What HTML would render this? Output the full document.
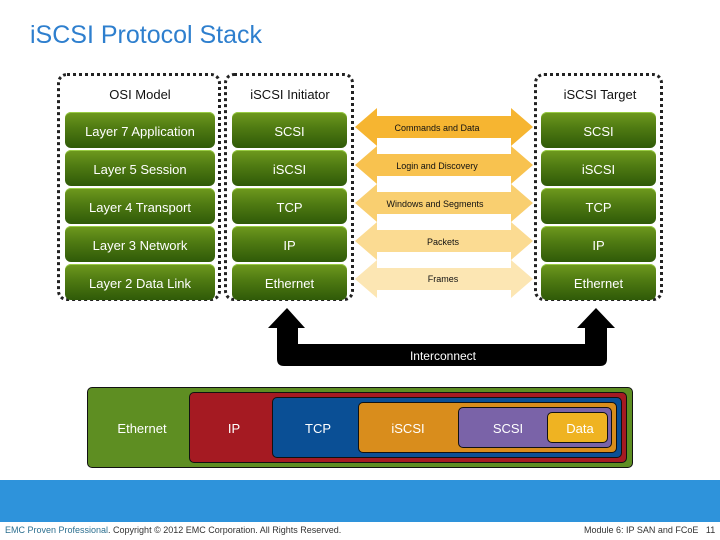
<!DOCTYPE html>
<html><head><meta charset="utf-8"><style>
*{margin:0;padding:0;box-sizing:border-box}
body{width:720px;height:540px;position:relative;background:#fff;font-family:"Liberation Sans",sans-serif;overflow:hidden}
.a{position:absolute}
.box{position:absolute;border:3px dotted #222;border-radius:10px}
.hd{position:absolute;font-size:13px;color:#111;text-align:center}
.g{position:absolute;height:36px;border-radius:6px;background:linear-gradient(#6f9a1e,#4f7a12 45%,#2f5a08);color:#fff;font-size:13px;line-height:40px;text-align:center;box-shadow:inset 0 1px 0 #9c4}
.n{position:absolute;border:1.5px solid #111;border-radius:5px}
.l{position:absolute;top:421px;color:#fff;font-size:13px;width:80px;text-align:center}
</style></head><body>
<div class="a" style="left:30px;top:21px;font-size:25px;color:#2e7fce">iSCSI Protocol Stack</div>

<div class="box" style="left:57px;top:73px;width:164px;height:228px"></div>
<div class="box" style="left:224px;top:73px;width:130px;height:228px"></div>
<div class="box" style="left:534px;top:73px;width:129px;height:228px"></div>
<div class="hd" style="left:60px;top:87px;width:160px">OSI Model</div>
<div class="hd" style="left:226px;top:87px;width:128px">iSCSI Initiator</div>
<div class="hd" style="left:536px;top:87px;width:128px">iSCSI Target</div>

<div class="g" style="left:65px;top:112px;width:150px">Layer 7 Application</div>
<div class="g" style="left:65px;top:150px;width:150px">Layer 5 Session</div>
<div class="g" style="left:65px;top:188px;width:150px">Layer 4 Transport</div>
<div class="g" style="left:65px;top:226px;width:150px">Layer 3 Network</div>
<div class="g" style="left:65px;top:264px;width:150px">Layer 2 Data Link</div>

<div class="g" style="left:232px;top:112px;width:115px">SCSI</div>
<div class="g" style="left:232px;top:150px;width:115px">iSCSI</div>
<div class="g" style="left:232px;top:188px;width:115px">TCP</div>
<div class="g" style="left:232px;top:226px;width:115px">IP</div>
<div class="g" style="left:232px;top:264px;width:115px">Ethernet</div>

<div class="g" style="left:541px;top:112px;width:115px">SCSI</div>
<div class="g" style="left:541px;top:150px;width:115px">iSCSI</div>
<div class="g" style="left:541px;top:188px;width:115px">TCP</div>
<div class="g" style="left:541px;top:226px;width:115px">IP</div>
<div class="g" style="left:541px;top:264px;width:115px">Ethernet</div>

<svg class="a" style="left:355px;top:108px" width="178" height="195">
<g>
<polygon points="0,19 22,0 22,8 156,8 156,0 178,19 156,38 156,30 22,30 22,38" fill="#f6b531"/>
<polygon points="0,19 22,0 22,8 156,8 156,0 178,19 156,38 156,30 22,30 22,38" fill="#f8c24f" transform="translate(0,38)"/>
<polygon points="0,19 22,0 22,8 156,8 156,0 178,19 156,38 156,30 22,30 22,38" fill="#f9cf70" transform="translate(0,76)"/>
<polygon points="0,19 22,0 22,8 156,8 156,0 178,19 156,38 156,30 22,30 22,38" fill="#fbdb92" transform="translate(0,114)"/>
<polygon points="0,19 22,0 22,8 156,8 156,0 178,19 156,38 156,30 22,30 22,38" fill="#fce6b3" transform="translate(0,152)"/>
</g>
<g font-family="Liberation Sans,sans-serif" font-size="9" fill="#111" text-anchor="middle">
<text x="82" y="23">Commands and Data</text>
<text x="82" y="61">Login and Discovery</text>
<text x="80" y="99">Windows and Segments</text>
<text x="88" y="137">Packets</text>
<text x="88" y="174">Frames</text>
</g>
</svg>

<svg class="a" style="left:0;top:0" width="720" height="380">
<path d="M277,328 L268,328 L287,308 L305,328 L298,328 L298,344 L585,344 L585,328 L577,328 L596,308 L615,328 L607,328 L607,359 Q607,366 600,366 L284,366 Q277,366 277,359 Z" fill="#000"/>
<text x="443" y="360" font-family="Liberation Sans,sans-serif" font-size="12" fill="#fff" text-anchor="middle">Interconnect</text>
</svg>

<div class="n" style="left:87px;top:387px;width:546px;height:81px;background:#5e8e22"></div>
<div class="n" style="left:189px;top:392px;width:438px;height:71px;background:#a51a22"></div>
<div class="n" style="left:272px;top:397px;width:350px;height:61px;background:#0a4f95"></div>
<div class="n" style="left:358px;top:402px;width:259px;height:51px;background:#d98d1c"></div>
<div class="n" style="left:458px;top:407px;width:154px;height:41px;background:#7a63a8"></div>
<div class="n" style="left:547px;top:412px;width:61px;height:31px;background:#efb322"></div>
<div class="l" style="left:102px">Ethernet</div>
<div class="l" style="left:194px">IP</div>
<div class="l" style="left:278px">TCP</div>
<div class="l" style="left:368px">iSCSI</div>
<div class="l" style="left:468px">SCSI</div>
<div class="l" style="left:540px">Data</div>

<div class="a" style="left:0;top:480px;width:720px;height:42px;background:#2e93db"></div>
<div class="a" style="left:5px;top:525px;font-size:9px;color:#333"><span style="color:#2b6f8f">EMC Proven Professional</span>. Copyright © 2012 EMC Corporation. All Rights Reserved.</div>
<div class="a" style="left:584px;top:525px;font-size:9px;color:#333">Module 6: IP SAN and FCoE&nbsp;&nbsp;&nbsp;11</div>
</body></html>
